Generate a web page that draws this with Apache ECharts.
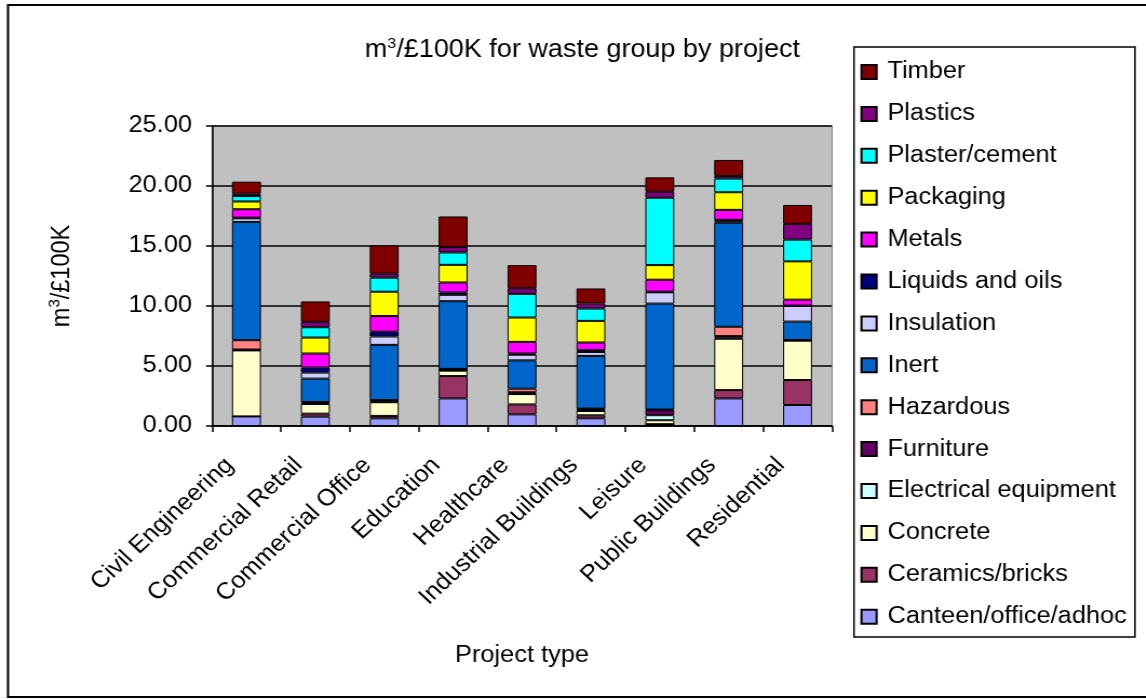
<!DOCTYPE html>
<html>
<head>
<meta charset="utf-8">
<script src="https://cdn.jsdelivr.net/npm/echarts@6/dist/echarts.min.js"></script>
<style>
  html, body { margin: 0; padding: 0; background: #fff; overflow: hidden; }
  #wrap { width: 1146px; height: 699px; overflow: hidden; }
  #chart { height: 699px; transform-origin: 0 0; }
</style>
</head>
<body>
<div id="wrap"><div id="chart"></div></div>
<script>
// Project types along the x axis
const projects = ['Civil Engineering', 'Commercial Retail', 'Commercial Office', 'Education',
  'Healthcare', 'Industrial Buildings', 'Leisure', 'Public Buildings', 'Residential'];

// Waste volume per waste group (m³ per £100K), stacked bottom to top
const canteen    = [0.80, 0.78, 0.64, 2.30, 0.97, 0.64, 0.15, 2.30, 1.75];
const ceramics   = [0.00, 0.25, 0.20, 1.86, 0.83, 0.25, 0.00, 0.69, 2.08];
const concrete   = [5.50, 0.80, 1.14, 0.45, 0.86, 0.36, 0.33, 4.28, 3.28];
const electrical = [0.05, 0.05, 0.05, 0.05, 0.05, 0.05, 0.42, 0.10, 0.02];
const furniture  = [0.02, 0.07, 0.08, 0.05, 0.10, 0.10, 0.42, 0.12, 0.02];
const hazardous  = [0.78, 0.05, 0.05, 0.05, 0.30, 0.05, 0.05, 0.78, 0.02];
const inert      = [9.86, 1.95, 4.60, 5.64, 2.36, 4.39, 8.83, 8.67, 1.53];
const insulation = [0.30, 0.50, 0.70, 0.53, 0.47, 0.33, 0.94, 0.12, 1.31];
const liquids    = [0.05, 0.42, 0.40, 0.20, 0.10, 0.15, 0.05, 0.12, 0.02];
const metals     = [0.70, 1.17, 1.30, 0.83, 0.97, 0.64, 1.00, 0.83, 0.50];
const packaging  = [0.65, 1.33, 2.03, 1.47, 2.03, 1.80, 1.22, 1.47, 3.19];
const plaster    = [0.45, 0.86, 1.17, 1.03, 1.97, 1.03, 5.61, 1.14, 1.81];
const plastics   = [0.20, 0.45, 0.33, 0.45, 0.47, 0.42, 0.50, 0.22, 1.31];
const timber     = [1.00, 1.70, 2.36, 2.55, 1.92, 1.25, 1.20, 1.33, 1.58];

// Y axis range
const yTicks = [0, 5, 10, 15, 20, 25];

const groups = [
  { name: 'Canteen/office/adhoc', data: canteen,    color: '#9999FF' },
  { name: 'Ceramics/bricks',      data: ceramics,   color: '#993366' },
  { name: 'Concrete',             data: concrete,   color: '#FFFFCC' },
  { name: 'Electrical equipment', data: electrical, color: '#CCFFFF' },
  { name: 'Furniture',            data: furniture,  color: '#660066' },
  { name: 'Hazardous',            data: hazardous,  color: '#FF8080' },
  { name: 'Inert',                data: inert,      color: '#0066CC' },
  { name: 'Insulation',           data: insulation, color: '#CCCCFF' },
  { name: 'Liquids and oils',     data: liquids,    color: '#000080' },
  { name: 'Metals',               data: metals,     color: '#FF00FF' },
  { name: 'Packaging',            data: packaging,  color: '#FFFF00' },
  { name: 'Plaster/cement',       data: plaster,    color: '#00FFFF' },
  { name: 'Plastics',             data: plastics,   color: '#800080' },
  { name: 'Timber',               data: timber,     color: '#800000' }
];

// The chart is drawn slightly narrower and widened with a horizontal scale,
// so every x position below is given in page pixels and divided by SX.
const SX = 1.08;
const X = v => v / SX;
const el = document.getElementById('chart');
el.style.width = (1146 / SX) + 'px';
el.style.transform = 'scaleX(' + SX + ')';

const FONT = '"Liberation Sans", Arial, sans-serif';
const FS = 23.5;
const sup = { fontFamily: FONT, fontSize: 15, lineHeight: 15, verticalAlign: 'top', color: '#000' };

const chart = echarts.init(el, null, { renderer: 'canvas' });

chart.setOption({
  animation: false,
  textStyle: { fontFamily: FONT, color: '#000' },
  title: {
    text: '{a|m}{s|3}{a|/£100K for waste group by project}',
    left: X(577), top: 31, textAlign: 'center',
    textStyle: {
      fontFamily: FONT, fontSize: 25, fontWeight: 'normal', color: '#000',
      rich: { a: { fontFamily: FONT, fontSize: 25, lineHeight: 28, color: '#000' }, s: sup }
    }
  },
  legend: {
    orient: 'vertical',
    left: X(855), top: 55,
    itemWidth: 14, itemHeight: 14, itemGap: 17.9,
    icon: 'rect',
    data: groups.map(g => g.name).reverse(),
    textStyle: { fontFamily: FONT, fontSize: FS, color: '#000', padding: [0, 0, 0, 5] }
  },
  graphic: [
    { type: 'rect', shape: { x: X(8), y: 5, width: X(1160), height: 692 },
      style: { fill: 'none', stroke: '#000', lineWidth: 2 }, silent: true, z: 100 },
    { type: 'rect', shape: { x: X(854), y: 47, width: X(281), height: 590 },
      style: { fill: 'none', stroke: '#000', lineWidth: 1.5 }, silent: true, z: 100 }
  ],
  grid: {
    left: X(212), top: 126, width: X(620), height: 300,
    show: true, backgroundColor: '#C0C0C0', borderColor: '#808080', borderWidth: 1
  },
  xAxis: {
    type: 'category',
    data: projects,
    name: 'Project type',
    nameLocation: 'middle',
    nameGap: 218,
    nameTextStyle: { fontFamily: FONT, fontSize: FS, color: '#000' },
    axisLine: { lineStyle: { color: '#000', width: 1.5 } },
    axisTick: { show: true, length: 6, lineStyle: { color: '#000', width: 1.5 } },
    axisLabel: { rotate: 45, margin: 20, padding: [0, 22, 0, 0],
      fontFamily: FONT, fontSize: FS, color: '#000', interval: 0 }
  },
  yAxis: {
    type: 'value',
    min: yTicks[0], max: yTicks[yTicks.length - 1], interval: 5,
    name: '{a|m}{s|3}{a|/£100K}',
    nameLocation: 'middle',
    nameRotate: 90,
    nameGap: X(135),
    nameTextStyle: {
      fontFamily: FONT, fontSize: FS, color: '#000',
      rich: { a: { fontFamily: FONT, fontSize: FS, lineHeight: 28, color: '#000' }, s: sup }
    },
    axisLine: { show: true, lineStyle: { color: '#000', width: 1.5 } },
    axisTick: { show: true, length: X(6), lineStyle: { color: '#000', width: 1.5 } },
    axisLabel: { margin: X(20), fontFamily: FONT, fontSize: FS, color: '#000',
      formatter: v => v.toFixed(2) },
    splitLine: { show: true, lineStyle: { color: '#000', width: 1.5 } }
  },
  series: groups.map(g => ({
    name: g.name,
    type: 'bar',
    stack: 'waste',
    barWidth: '42%',
    data: g.data,
    itemStyle: { color: g.color, borderColor: '#000', borderWidth: 1 },
    emphasis: { disabled: true }
  }))
});
</script>
</body>
</html>
